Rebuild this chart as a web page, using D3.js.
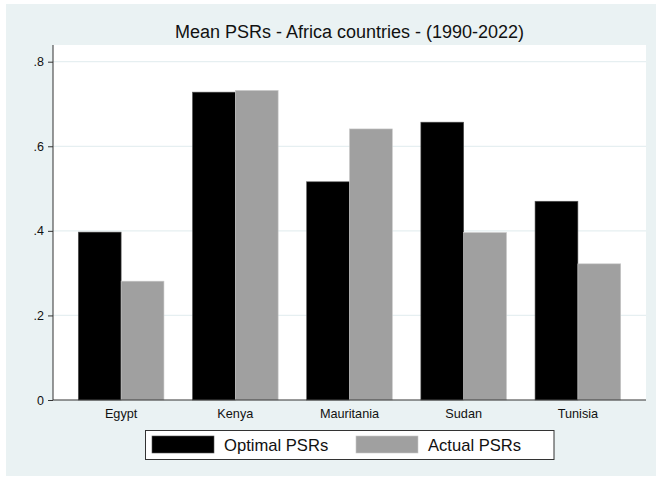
<!DOCTYPE html>
<html><head><meta charset="utf-8">
<script src="https://cdn.jsdelivr.net/npm/d3@7"></script>
<style>
html,body{margin:0;padding:0;background:#fff;}
text{font-family:"Liberation Sans",Arial,sans-serif;}
</style></head>
<body>
<svg id="chart" width="656" height="479"></svg>
<script>
const categories = ["Egypt","Kenya","Mauritania","Sudan","Tunisia"];
const seriesNames = ["Optimal PSRs","Actual PSRs"];
const optimal = [0.397,0.728,0.516,0.657,0.470];
const actual = [0.281,0.732,0.641,0.396,0.322];
const yTicks = [0,0.2,0.4,0.6,0.8];
const yTickLabels = ["0",".2",".4",".6",".8"];
const colors = ["#000000","#a0a0a0"];
const title = "Mean PSRs - Africa countries - (1990-2022)";

const svg = d3.select("#chart");
svg.append("rect").attr("x",6).attr("y",4).attr("width",650).attr("height",472).attr("fill","#eaf2f3");

const m = {left:53, right:646, top:45, bottom:400};
svg.append("rect").attr("x",m.left).attr("y",m.top).attr("width",m.right-m.left).attr("height",m.bottom-m.top).attr("fill","#fff");

const y = d3.scaleLinear().domain([0,0.8]).range([m.bottom, 61.7]);
const x = d3.scaleBand().domain(categories).range([m.left,m.right]).paddingInner(0.25).paddingOuter(0.2215);
const xs = d3.scaleBand().domain(seriesNames).range([0,x.bandwidth()]);

// gridlines
svg.append("g").selectAll("line").data(yTicks.filter(d=>d>0)).join("line")
  .attr("x1",m.left).attr("x2",m.right).attr("y1",d=>y(d)).attr("y2",d=>y(d))
  .attr("stroke","#e6eff1").attr("stroke-width",1.2);

// bars
const data = categories.map((c,i)=>({c, vals:[optimal[i],actual[i]]}));
const g = svg.append("g").selectAll("g").data(data).join("g").attr("transform",d=>`translate(${x(d.c)},0)`);
g.selectAll("rect").data(d=>d.vals.map((v,j)=>({v,j}))).join("rect")
  .attr("x",d=>xs(seriesNames[d.j])).attr("width",xs.bandwidth())
  .attr("y",d=>y(d.v)).attr("height",d=>y(0)-y(d.v))
  .attr("fill",d=>colors[d.j])
  .attr("stroke",d=>d.j===0?"#555":"#c8c8c8").attr("stroke-width",0.6);

// y axis
const ya = svg.append("g").attr("transform",`translate(${m.left},0)`)
  .call(d3.axisLeft(y).tickValues(yTicks).tickFormat((d,i)=>yTickLabels[i]).tickSize(5).tickPadding(4));
ya.select(".domain").attr("d",`M0,${m.top}V${m.bottom}`).attr("stroke","#333");
ya.selectAll(".tick line").attr("stroke","#333");
ya.selectAll("text").attr("font-size",12.5).attr("fill","#111").attr("font-family","Liberation Sans, Arial, sans-serif");

// x axis
const xa = svg.append("g").attr("transform",`translate(0,${m.bottom})`)
  .call(d3.axisBottom(x).tickSize(0).tickPadding(9));
xa.select(".domain").attr("d",`M${m.left},0H${m.right}`).attr("stroke","#333");
xa.selectAll("text").attr("font-size",12.7).attr("fill","#111").attr("font-family","Liberation Sans, Arial, sans-serif");

// title
svg.append("text").attr("x",(m.left+m.right)/2).attr("y",38).attr("text-anchor","middle")
  .attr("font-size",18).attr("fill","#111").text(title);

// legend
const lg = svg.append("g");
lg.append("rect").attr("x",145.5).attr("y",430.5).attr("width",408.5).attr("height",29).attr("fill","#fff").attr("stroke","#333").attr("stroke-width",1);
const legX = [152,356];
seriesNames.forEach((s,i)=>{
  lg.append("rect").attr("x",legX[i]).attr("y",436).attr("width",62).attr("height",17).attr("fill",colors[i])
    .attr("stroke",i===0?"#555":"#c8c8c8").attr("stroke-width",0.6);
  lg.append("text").attr("x",legX[i]+72).attr("y",451).attr("font-size",16.6).attr("fill","#111").text(s);
});
</script>
</body></html>
